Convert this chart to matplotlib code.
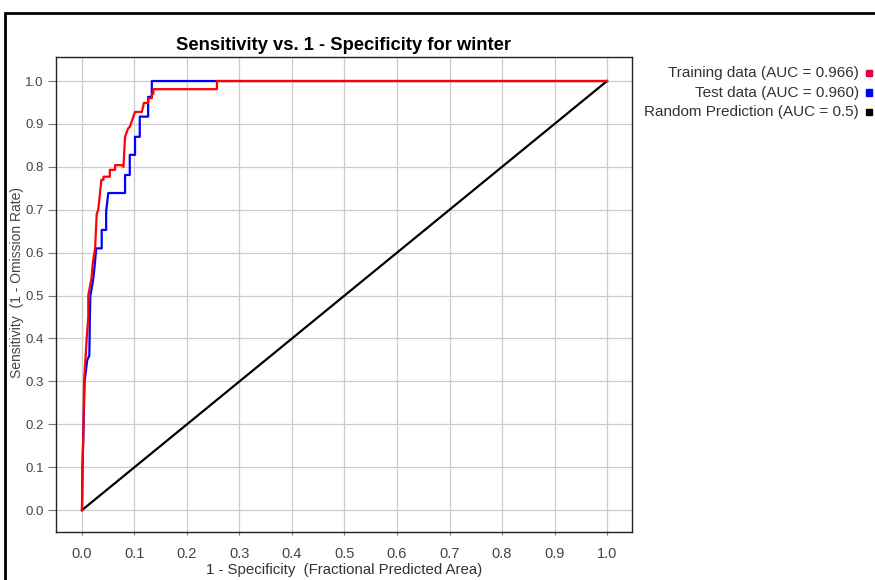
import matplotlib
matplotlib.use('Agg')
import matplotlib.pyplot as plt
from matplotlib.patches import Rectangle

# ROC curves
train_x = [0.0, 0.001, 0.003, 0.004, 0.009, 0.012, 0.012, 0.018, 0.021, 0.025, 0.028, 0.031,
           0.037, 0.041, 0.041, 0.053, 0.053, 0.063, 0.063, 0.076, 0.079, 0.082, 0.088, 0.091,
           0.101, 0.114, 0.118, 0.126, 0.126, 0.133, 0.133, 0.136, 0.136, 0.257, 0.257, 1.0]
train_y = [0.0, 0.10, 0.20, 0.30, 0.40, 0.45, 0.50, 0.54, 0.58, 0.61, 0.69, 0.70,
           0.77, 0.77, 0.777, 0.777, 0.793, 0.793, 0.804, 0.804, 0.80, 0.87, 0.89, 0.893,
           0.928, 0.928, 0.949, 0.949, 0.96, 0.96, 0.97, 0.97, 0.981, 0.981, 1.0, 1.0]

test_x = [0.0, 0.001, 0.003, 0.005, 0.010, 0.014, 0.015, 0.016, 0.019, 0.022, 0.025, 0.027,
          0.0375, 0.0375, 0.046, 0.046, 0.050, 0.082, 0.082, 0.091, 0.091, 0.101, 0.101,
          0.110, 0.110, 0.126, 0.126, 0.133, 0.133, 1.0]
test_y = [0.0, 0.10, 0.20, 0.30, 0.35, 0.36, 0.45, 0.50, 0.52, 0.544, 0.58, 0.61,
          0.61, 0.653, 0.653, 0.696, 0.739, 0.739, 0.781, 0.781, 0.828, 0.828, 0.870,
          0.870, 0.917, 0.917, 0.963, 0.963, 1.0, 1.0]

random_x = [0.0, 1.0]
random_y = [0.0, 1.0]

ticks = [0.0, 0.1, 0.2, 0.3, 0.4, 0.5, 0.6, 0.7, 0.8, 0.9, 1.0]
tick_labels = ['0.0', '0.1', '0.2', '0.3', '0.4', '0.5', '0.6', '0.7', '0.8', '0.9', '1.0']

legend_labels = ['Training data (AUC = 0.966)', 'Test data (AUC = 0.960)',
                 'Random Prediction (AUC = 0.5)']
legend_colors = ['#e8003c', '#0000ff', '#000000']

NARROW = ['Liberation Sans Narrow', 'Liberation Sans', 'DejaVu Sans']
SANS = ['Liberation Sans', 'DejaVu Sans']

W, H = 875, 580
fig = plt.figure(figsize=(W / 100, H / 100), dpi=100)
ax = fig.add_axes([56 / W, 1 - 532 / H, (632 - 56) / W, (532 - 57) / H])

ax.plot(random_x, random_y, color='#000000', lw=1.6)
ax.plot(test_x, test_y, color='#0000ff', lw=1.6)
ax.plot(train_x, train_y, color='#ff0000', lw=1.6)

ax.set_xlim(-0.0495, 1.0476)
ax.set_ylim(-0.051, 1.056)
ax.set_xticks(ticks)
ax.set_xticklabels(tick_labels, family=NARROW, fontsize=10.5, color='#444444')
ax.set_yticks(ticks)
ax.set_yticklabels(tick_labels, family=SANS, fontsize=9.5, color='#444444')
ax.tick_params(axis='y', direction='out', length=6, width=0.8, color='#777777', pad=3)
ax.tick_params(axis='x', direction='out', length=2, width=0.8, color='#777777', pad=9)
ax.grid(True, color='#cccccc', lw=0.9)
ax.set_axisbelow(True)
for s in ax.spines.values():
    s.set_color('#222222')
    s.set_linewidth(1.0)

ax.set_xlabel('1 - Specificity  (Fractional Predicted Area)', family=NARROW,
              fontsize=10.8, color='#333333', labelpad=1)
fig.text(17 / W, 1 - 282 / H, 'Sensitivity  (1 - Omission Rate)', rotation=90,
         ha='center', va='center', family=SANS, fontsize=10, color='#444444')
fig.text(344 / W, 1 - 45 / H, 'Sensitivity vs. 1 - Specificity for winter',
         ha='center', va='center', family=NARROW, fontsize=13.2, fontweight='bold')

# legend on the right: text right aligned, small square after it
for i, (lab, col) in enumerate(zip(legend_labels, legend_colors)):
    yc = 73 + i * 19.5
    fig.text(859 / W, 1 - yc / H, lab, ha='right', va='center', family=SANS,
             fontsize=11, color='#333333')
    fig.add_artist(Rectangle((866 / W, 1 - (yc + 3) / H), 6 / W, 6 / H,
                             transform=fig.transFigure, color=col))

# outer frame
fig.add_artist(Rectangle((5 / W, -0.1), 1.0, 1 - 13 / H + 0.1,
                         transform=fig.transFigure, fill=False, ec='black', lw=2))

fig.savefig('out.png', dpi=100)
